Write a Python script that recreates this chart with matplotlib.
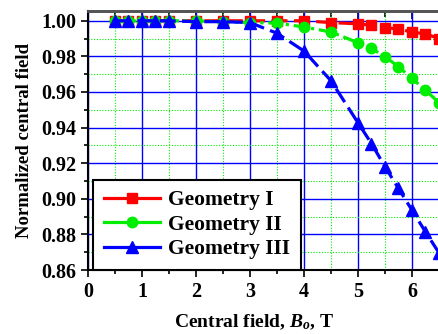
import numpy as np
import matplotlib.pyplot as plt
from matplotlib.ticker import MultipleLocator, FixedLocator

# data
b0 = [0.5, 0.75, 1, 1.25, 1.5, 2, 2.5, 3, 3.5, 4, 4.5, 5, 5.25, 5.5, 5.75, 6, 6.25, 6.5]
geom1 = [1, 1, 1, 1, 1, 1, 1, 1, 1.0, 1.0, 0.999, 0.9983, 0.9974, 0.996, 0.9955, 0.9936, 0.9927, 0.990]
geom2 = [1, 1, 1, 1, 1, 1, 0.9995, 0.999, 0.9987, 0.9965, 0.9937, 0.9877, 0.9845, 0.9798,
         0.9742, 0.9676, 0.961, 0.954]
geom3 = [1, 1, 1, 1, 1, 0.9995, 0.9995, 0.999, 0.993, 0.983, 0.9663, 0.9427, 0.931, 0.918,
         0.9058, 0.8936, 0.8814, 0.8696]
labels = ['Geometry I', 'Geometry II', 'Geometry III']
xticks = [0, 1, 2, 3, 4, 5, 6]

plt.rcParams['font.family'] = 'Liberation Serif'
plt.rcParams['font.weight'] = 'bold'
plt.rcParams['mathtext.fontset'] = 'custom'
plt.rcParams['mathtext.rm'] = 'Liberation Serif:bold'
plt.rcParams['mathtext.it'] = 'Liberation Serif:bold:italic'
plt.rcParams['mathtext.bf'] = 'Liberation Serif:bold'

fig = plt.figure(figsize=(4.39, 3.34), dpi=100)
# axes runs off the right edge like the original
ax = fig.add_axes([88/439, 64/334, 378/439, 259/334])

ax.plot(b0, geom1, color='#ff0000', lw=2.3, dashes=(5, 2), marker='s', ms=7,
        label=labels[0], zorder=3)
ax.plot(b0, geom2, color='#00ee00', lw=2.3, dashes=(4, 1.5, 1, 1.5), marker='o', ms=7.5,
        label=labels[1], zorder=4)
ax.plot(b0, geom3, color='#0000ff', lw=2.3, dashes=(5, 2), marker='^', ms=8,
        label=labels[2], zorder=5)

ax.set_xlim(0, 7)
ax.set_ylim(0.86, 1.0055)
ax.xaxis.set_major_locator(FixedLocator(xticks))
ax.xaxis.set_minor_locator(FixedLocator([x + 0.5 for x in xticks]))
ax.yaxis.set_major_locator(MultipleLocator(0.02))
ax.yaxis.set_minor_locator(MultipleLocator(0.01))
ax.yaxis.set_major_formatter(plt.FormatStrFormatter('%.2f'))

ax.grid(which='major', color='#0000ff', lw=1, ls='-')
ax.grid(which='minor', color='#00ee00', lw=0.8, ls=(0, (1, 1.5)))
ax.set_axisbelow(True)

ax.tick_params(which='both', direction='out', labelsize=14.5, width=1.2)
ax.tick_params(which='major', length=5)
ax.tick_params(which='minor', length=3)
for s in ['left', 'bottom']:
    ax.spines[s].set_linewidth(1.5)
ax.spines['top'].set_color('#555555')
ax.spines['top'].set_linewidth(2)

# inward ticks along the top
top = ax.secondary_xaxis('top')
top.xaxis.set_major_locator(FixedLocator(xticks))
top.xaxis.set_minor_locator(FixedLocator([x + 0.5 for x in xticks]))
top.tick_params(which='both', direction='in', labeltop=False, width=1.2)
top.tick_params(which='major', length=6)
top.tick_params(which='minor', length=4)
top.spines['top'].set_color('#555555')
top.spines['top'].set_linewidth(2)

ax.set_ylabel('Normalized central field', fontsize=13.5, fontweight='bold', labelpad=6)
fig.text(254/439, 12/334, r'Central field, $B_o$, T', fontsize=14, fontweight='bold',
         ha='center', va='center')

leg = ax.legend(loc='lower left', bbox_to_anchor=(0.013, 0.0), fontsize=15.5, frameon=True,
                fancybox=False, edgecolor='black', framealpha=1, handlelength=2.6,
                borderaxespad=0, labelspacing=0.2, handletextpad=0.4, borderpad=0.5)
leg.get_frame().set_linewidth(1.5)
for line in leg.get_lines():
    line.set_linestyle('-')

fig.savefig('out.png', dpi=100)
